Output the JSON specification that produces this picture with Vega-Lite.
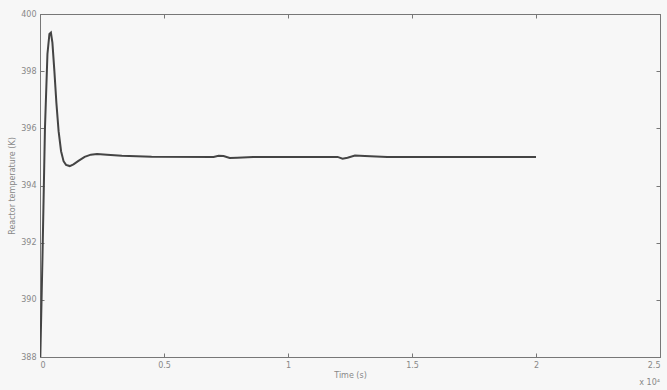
{
  "$schema": "https://vega.github.io/schema/vega-lite/v6.json",
  "width": 620,
  "height": 343,
  "autosize": {"type": "none"},
  "padding": {"left": 40, "top": 14, "right": 7, "bottom": 33},
  "background": "#f7f7f7",
  "config": {
    "view": {"stroke": "#888", "strokeWidth": 1},
    "axis": {"labelFont": "DejaVu Sans", "titleFont": "DejaVu Sans", "labelColor": "#888", "titleColor": "#888", "labelFontSize": 8, "titleFontSize": 8, "titleFontWeight": "normal", "grid": false, "domainColor": "#777", "tickColor": "#777"}
  },
  "data": {"values": [
    {"t": 0, "T": 387.5},
    {"t": 100, "T": 391.5},
    {"t": 200, "T": 396.0},
    {"t": 300, "T": 398.6},
    {"t": 380, "T": 399.3},
    {"t": 440, "T": 399.35},
    {"t": 500, "T": 399.0},
    {"t": 580, "T": 398.0},
    {"t": 660, "T": 396.9},
    {"t": 750, "T": 395.9},
    {"t": 850, "T": 395.2},
    {"t": 950, "T": 394.85},
    {"t": 1050, "T": 394.72},
    {"t": 1200, "T": 394.68},
    {"t": 1350, "T": 394.74},
    {"t": 1550, "T": 394.86},
    {"t": 1800, "T": 395.0},
    {"t": 2050, "T": 395.08},
    {"t": 2300, "T": 395.1},
    {"t": 2700, "T": 395.08},
    {"t": 3300, "T": 395.04},
    {"t": 4500, "T": 395.01},
    {"t": 7000, "T": 395.0},
    {"t": 7200, "T": 395.04},
    {"t": 7400, "T": 395.03},
    {"t": 7650, "T": 394.96},
    {"t": 7950, "T": 394.97},
    {"t": 8600, "T": 395.0},
    {"t": 12000, "T": 395.0},
    {"t": 12200, "T": 394.94},
    {"t": 12400, "T": 394.97},
    {"t": 12700, "T": 395.05},
    {"t": 13100, "T": 395.03},
    {"t": 14000, "T": 395.0},
    {"t": 20000, "T": 395.0}
  ]},
  "layer": [
    {
      "mark": {"type": "line", "color": "#444", "strokeWidth": 2, "clip": true},
      "encoding": {
        "x": {"field": "t", "type": "quantitative", "scale": {"domain": [0, 25000], "nice": false}, "title": "Time (s)",
          "axis": {"values": [0, 5000, 10000, 15000, 20000, 25000], "labelExpr": "format(datum.value/10000, '')", "tickSize": -4, "labelPadding": 8, "titlePadding": 2}},
        "y": {"field": "T", "type": "quantitative", "scale": {"domain": [388, 400], "nice": false, "zero": false}, "title": "Reactor temperature (K)",
          "axis": {"values": [388, 390, 392, 394, 396, 398, 400], "tickSize": -4, "labelPadding": 8, "titlePadding": 4}}
      }
    },
    {
      "mark": {"type": "line", "opacity": 0},
      "encoding": {
        "x": {"field": "t", "type": "quantitative", "scale": {"domain": [0, 25000], "nice": false},
          "axis": {"orient": "top", "title": null, "labels": false, "values": [0, 5000, 10000, 15000, 20000, 25000], "tickSize": -4}},
        "y": {"field": "T", "type": "quantitative", "scale": {"domain": [388, 400], "nice": false, "zero": false},
          "axis": {"orient": "right", "title": null, "labels": false, "values": [388, 390, 392, 394, 396, 398, 400], "tickSize": -4}}
      }
    },
    {
      "data": {"values": [{"t": 25000, "T": 388, "txt": "x 10⁴"}]},
      "mark": {"type": "text", "align": "right", "baseline": "top", "dy": 22, "fontSize": 8, "color": "#888", "font": "DejaVu Sans"},
      "encoding": {
        "x": {"field": "t", "type": "quantitative", "axis": null},
        "y": {"field": "T", "type": "quantitative", "axis": null},
        "text": {"field": "txt"}
      }
    }
  ],
  "resolve": {"axis": {"x": "independent", "y": "independent"}}
}
